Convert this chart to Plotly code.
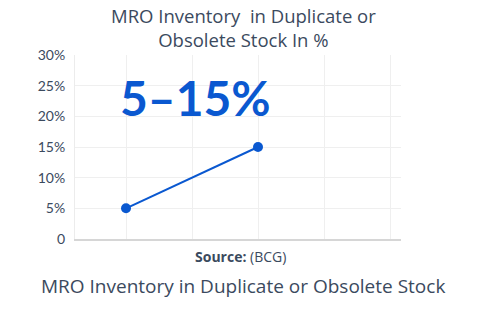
import plotly.graph_objects as go

x_vals = [0, 2]
y_vals = [5, 15]
y_ticks = [0, 5, 10, 15, 20, 25, 30]
y_tick_labels = ["0", "5%", "10%", "15%", "20%", "25%", "30%"]
x_ticks = [0, 1, 2, 3, 4]

blue = "#0a58d0"
text_col = "#3b4a5e"
font_family = "Lato, Open Sans, sans-serif"
wide_font = "Open Sans, sans-serif"

title_text = "MRO Inventory&nbsp; in Duplicate or<br>Obsolete Stock In %"

fig = go.Figure()
fig.add_trace(go.Scatter(
    x=x_vals, y=y_vals, mode="lines+markers",
    line=dict(color=blue, width=2),
    marker=dict(color=blue, size=10),
    showlegend=False, hoverinfo="skip",
))

plot_h = 310 - 55 - 71

def py(pix):
    # pixel y (from top) to paper fraction
    return 1 + (55 - pix) / plot_h

annotations = [
    dict(text=title_text, x=0.5, xref="paper", xshift=5, y=py(27.5), yref="paper",
         showarrow=False, yanchor="middle", font=dict(size=18.5, color=text_col, family=wide_font)),
    dict(text="<b>5–15%</b>", x=1.06, y=23, xref="x", yref="y",
         showarrow=False, font=dict(size=48, color=blue, family="Lato, sans-serif")),
    dict(text="<b>Source:</b> (BCG)", x=0.5, y=py(256), xref="paper", yref="paper", xshift=2,
         yanchor="middle", showarrow=False, font=dict(size=14, color=text_col, family=wide_font)),
    dict(text="MRO Inventory in Duplicate or Obsolete Stock", x=0.5, xref="paper",
         y=py(286), yref="paper", yanchor="middle", xshift=5, showarrow=False,
         font=dict(size=19, color=text_col, family=wide_font)),
]

fig.update_layout(
    width=486, height=310,
    margin=dict(l=75, r=85, t=55, b=71),
    paper_bgcolor="white", plot_bgcolor="white",
    font=dict(family=font_family, color=text_col),
    xaxis=dict(
        range=[-51/66, 4 + 11/66], tickvals=x_ticks, showticklabels=False,
        showgrid=True, gridcolor="#efefef", gridwidth=1,
        zeroline=False, showline=True, linecolor="#d6d6d6", linewidth=1.5,
        fixedrange=True,
    ),
    yaxis=dict(
        range=[0, 30], tickvals=y_ticks, ticktext=y_tick_labels,
        showgrid=True, gridcolor="#efefef", gridwidth=1,
        zeroline=False, showline=True, linecolor="#ececec", linewidth=1,
        tickfont=dict(size=14, color=text_col), ticks="", ticklabelstandoff=6,
        fixedrange=True,
    ),
    annotations=annotations,
)

fig.write_html("out.html")
